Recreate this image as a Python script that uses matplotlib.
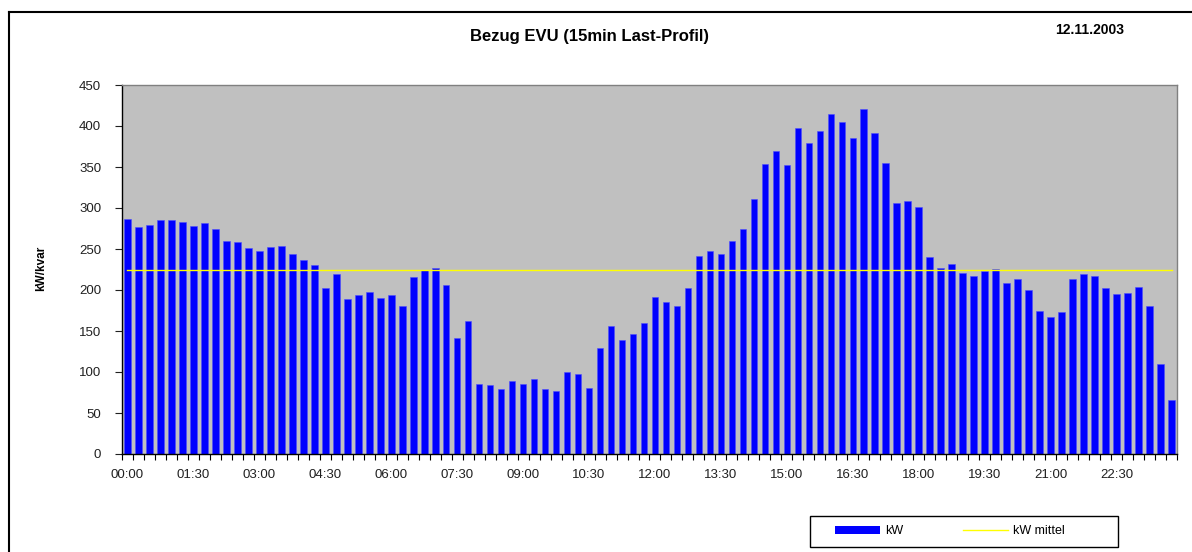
import numpy as np
import matplotlib
matplotlib.use("Agg")
import matplotlib.pyplot as plt
from matplotlib.patches import Patch, Rectangle
from matplotlib.lines import Line2D

plt.rcParams['font.family'] = ['Liberation Sans', 'DejaVu Sans']

### Data - 15 min load profile, 12.11.2003
kw = [286, 277, 279, 285, 285, 283, 278, 282, 275, 260,
      258, 251, 248, 252, 254, 244, 236, 231, 202, 219,
      189, 194, 198, 190, 194, 181, 216, 224, 227, 206,
      141, 162, 85, 84, 79, 89, 85, 92, 79, 77,
      100, 98, 80, 129, 156, 139, 146, 160, 192, 185,
      181, 202, 242, 248, 244, 260, 274, 311, 354, 370,
      352, 397, 379, 394, 415, 405, 385, 421, 392, 355,
      306, 308, 301, 240, 227, 232, 221, 217, 223, 226,
      209, 214, 200, 175, 167, 173, 213, 220, 217, 202,
      195, 196, 204, 181, 110, 66]
kw_mittel = np.mean(kw)

tick_labels = ['00:00', '01:30', '03:00', '04:30', '06:00', '07:30', '09:00', '10:30',
               '12:00', '13:30', '15:00', '16:30', '18:00', '19:30', '21:00', '22:30']
tick_step = 6  # one label every 1.5 h

title = 'Bezug EVU (15min Last-Profil)'
date = '12.11.2003'

### Figure
W, H = 1192, 552
fig = plt.figure(figsize=(W/100, H/100), dpi=100)
fig.patch.set_facecolor('white')
ax = fig.add_axes([122/W, 98/H, 1055/W, 369/H])
ax.set_facecolor('#C0C0C0')

x = np.arange(len(kw))
ax.bar(x, kw, width=0.6, color='#0000FF', edgecolor='#5050FF', linewidth=0.4, zorder=2)
ax.plot([x[0], x[-1]], [kw_mittel, kw_mittel], color='#FFFF00', lw=1.0, zorder=3)

ax.set_xlim(-0.5, len(kw) - 0.5)
ax.set_ylim(0, 450)
ax.set_yticks(np.arange(0, 451, 50))

ax.set_xticks(x[::tick_step])
ax.set_xticklabels(tick_labels, fontsize=9.5)
ax.set_xticks(np.arange(-0.5, len(kw), 1), minor=True)
ax.tick_params(axis='x', which='major', length=0, pad=11, colors='#202020')
ax.tick_params(axis='x', which='minor', length=4, width=0.8, color='black')
ax.tick_params(axis='y', length=5, width=0.8, pad=10, labelsize=9.5, colors='#202020')

for s in ['left', 'bottom']:
    ax.spines[s].set_color('black')
    ax.spines[s].set_linewidth(1.0)
for s in ['top', 'right']:
    ax.spines[s].set_color('#808080')
    ax.spines[s].set_linewidth(1.0)

# texts
fig.text(590/W, 1 - 37/H, title, ha='center', va='center', fontsize=12, fontweight='bold')
fig.text(1090/W, 1 - 30/H, date, ha='center', va='center', fontsize=10, fontweight='bold')
fig.text(41/W, 1 - 268/H, 'kW/kvar', rotation=90, ha='center', va='center',
         fontsize=8.5, fontweight='bold')

# legend box (Excel style, wide padding)
fig.add_artist(Rectangle((810/W, 1 - 547/H), 308/W, 31/H, transform=fig.transFigure,
                         facecolor='white', edgecolor='black', lw=1.0))
handles = [Patch(facecolor='#0000FF', edgecolor='none'),
           Line2D([0], [0], color='#FFFF00', lw=1.0)]
leg = fig.legend(handles, ['kW', 'kW mittel'], loc='center left',
                 bbox_to_anchor=(835/W, 1 - 531.5/H), ncol=2, fontsize=9,
                 frameon=False, handlelength=3.6, handleheight=0.55, handletextpad=0.4,
                 columnspacing=4.8, borderpad=0, borderaxespad=0)

# outer chart frame (cut at right and bottom)
fig.add_artist(Line2D([9/W, 9/W], [0, 1 - 12/H], transform=fig.transFigure,
                      color='black', lw=1.5))
fig.add_artist(Line2D([9/W, 1], [1 - 12/H, 1 - 12/H], transform=fig.transFigure,
                      color='black', lw=1.5))

fig.savefig('out.png', dpi=100)
